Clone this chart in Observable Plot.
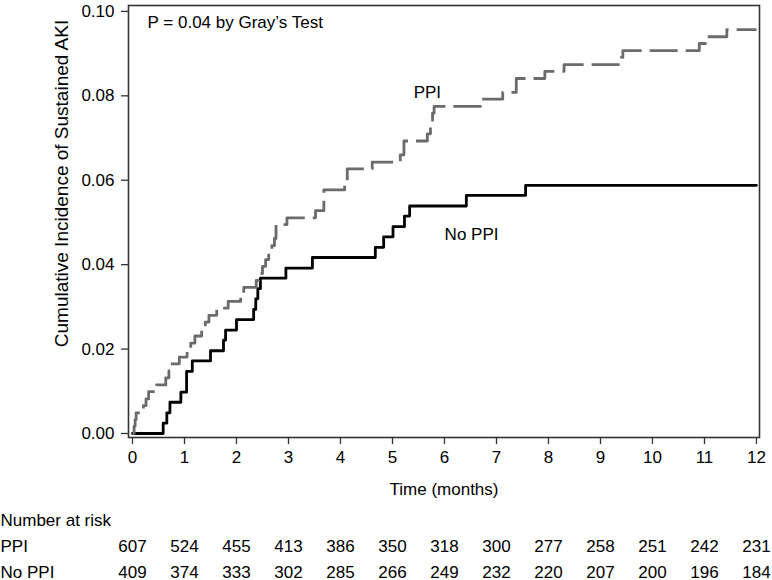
<!DOCTYPE html>
<html>
<head>
<meta charset="utf-8">
<script src="https://cdn.jsdelivr.net/npm/d3@7"></script>
<script src="https://cdn.jsdelivr.net/npm/@observablehq/plot@0.6"></script>
<style>
  body { margin: 0; background: #fff; }
  #chart svg { font-family: "Liberation Sans", Arial, Helvetica, sans-serif; }
</style>
</head>
<body>
<div id="chart"></div>
<script>
// ---- data ----
const ppiTime  = [0, 0.03, 0.05, 0.07, 0.21, 0.26, 0.31, 0.46, 0.64, 0.70, 0.73, 0.90, 1.05, 1.12, 1.20, 1.33, 1.40, 1.47, 1.62, 1.84, 2.08, 2.14, 2.38, 2.43, 2.50, 2.56, 2.62, 2.68, 2.73, 2.76, 2.97, 3.52, 3.68, 4.08, 4.13, 4.61, 5.15, 5.22, 5.67, 5.73, 5.77, 5.80, 6.69, 7.12, 7.38, 7.93, 8.30, 9.40, 9.43, 10.90, 11.02, 11.43, 12.0];
const ppiValue = [0, 0.0017, 0.0033, 0.0049, 0.0066, 0.0082, 0.0099, 0.0115, 0.0132, 0.0148, 0.0165, 0.0181, 0.0198, 0.0214, 0.0231, 0.0247, 0.0264, 0.0280, 0.0297, 0.0313, 0.0330, 0.0346, 0.0363, 0.0379, 0.0396, 0.0412, 0.0429, 0.0445, 0.0462, 0.0495, 0.0511, 0.0528, 0.0577, 0.0594, 0.0627, 0.0643, 0.0660, 0.0693, 0.0710, 0.0726, 0.0759, 0.0775, 0.0792, 0.0808, 0.0841, 0.0858, 0.0874, 0.0891, 0.0907, 0.0924, 0.0940, 0.0957, 0.0957];

const noPpiTime  = [0, 0.59, 0.66, 0.72, 0.93, 1.04, 1.15, 1.50, 1.75, 1.79, 2.00, 2.33, 2.37, 2.41, 2.46, 2.95, 3.46, 4.67, 4.83, 5.01, 5.23, 5.33, 6.42, 7.56, 12.0];
const noPpiValue = [0, 0.00245, 0.0049, 0.0074, 0.0098, 0.0147, 0.0172, 0.0196, 0.0221, 0.0245, 0.0270, 0.0294, 0.0319, 0.0343, 0.0368, 0.0392, 0.0417, 0.0441, 0.0466, 0.0490, 0.0515, 0.0539, 0.0564, 0.0588, 0.0588];

const xTicks = [0, 1, 2, 3, 4, 5, 6, 7, 8, 9, 10, 11, 12];
const yTicks = [0, 0.02, 0.04, 0.06, 0.08, 0.10];

const riskPPI   = [607, 524, 455, 413, 386, 350, 318, 300, 277, 258, 251, 242, 231];
const riskNoPPI = [409, 374, 333, 302, 285, 266, 249, 232, 220, 207, 200, 196, 184];
const riskHeader = "Number at risk";
const seriesNames = ["PPI", "No PPI"];

const pText = "P = 0.04 by Gray\u2019s Test";
const xTitle = "Time (months)";
const yTitle = "Cumulative Incidence of Sustained AKI";

// annotation anchor positions in data units
const labelTime  = [0.29, 5.67, 6.52];
const labelValue = [0.0974, 0.0808, 0.0472];

// ---- build tables ----
const ppiRows = ppiTime.map((t, i) => ({t, v: ppiValue[i]}));
const noPpiRows = noPpiTime.map((t, i) => ({t, v: noPpiValue[i]}));
const riskRowsPPI = xTicks.map((t, i) => ({t, n: riskPPI[i]}));
const riskRowsNo = xTicks.map((t, i) => ({t, n: riskNoPPI[i]}));

const FS = 17;

const chart = Plot.plot({
  width: 772,
  height: 580,
  marginLeft: 128,
  marginRight: 13,
  marginTop: 5,
  marginBottom: 143,
  style: {fontSize: FS + "px", color: "#000", background: "#fff", overflow: "visible"},
  x: {domain: [-0.077, 12.058]},
  y: {domain: [-0.00095, 0.1014]},
  marks: [
    Plot.frame({stroke: "#333", strokeWidth: 1.6}),
    Plot.axisX(xTicks, {tickSize: 7, tickPadding: 6, tickFormat: d => String(d), label: null, stroke: "#333", strokeWidth: 1.3, fontSize: FS}),
    Plot.axisY(yTicks, {tickSize: 7, tickPadding: 7, tickFormat: d3.format(".2f"), label: null, stroke: "#333", strokeWidth: 1.3, fontSize: FS}),
    Plot.line(noPpiRows, {x: "t", y: "v", curve: "step-after", stroke: "#000", strokeWidth: 2.8}),
    Plot.line(ppiRows, {x: "t", y: "v", curve: "step-after", stroke: "#6b6b6b", strokeWidth: 2.8, strokeDasharray: "28,8", strokeLinecap: "butt"}),
    Plot.text([pText], {x: labelTime[0], y: labelValue[0], text: d => d, textAnchor: "start", fontSize: FS}),
    Plot.text([seriesNames[0]], {x: labelTime[1], y: labelValue[1], text: d => d, fontSize: FS}),
    Plot.text([seriesNames[1]], {x: labelTime[2], y: labelValue[2], text: d => d, fontSize: FS}),
    Plot.text([yTitle], {frameAnchor: "left", textAnchor: "middle", dx: -67, dy: -38, rotate: -90, text: d => d, fontSize: 19}),
    Plot.text([xTitle], {frameAnchor: "bottom", dy: 57, text: d => d, fontSize: FS}),
    Plot.text([riskHeader], {frameAnchor: "bottom-left", dx: -128, dy: 88, textAnchor: "start", text: d => d, fontSize: FS}),
    Plot.text([seriesNames[0]], {frameAnchor: "bottom-left", dx: -128, dy: 114, textAnchor: "start", text: d => d, fontSize: FS}),
    Plot.text([seriesNames[1]], {frameAnchor: "bottom-left", dx: -128, dy: 140, textAnchor: "start", text: d => d, fontSize: FS}),
    Plot.text(riskRowsPPI, {x: "t", frameAnchor: "bottom", dy: 114, text: "n", fontSize: FS}),
    Plot.text(riskRowsNo, {x: "t", frameAnchor: "bottom", dy: 140, text: "n", fontSize: FS})
  ]
});
document.getElementById("chart").appendChild(chart);
</script>
</body>
</html>
